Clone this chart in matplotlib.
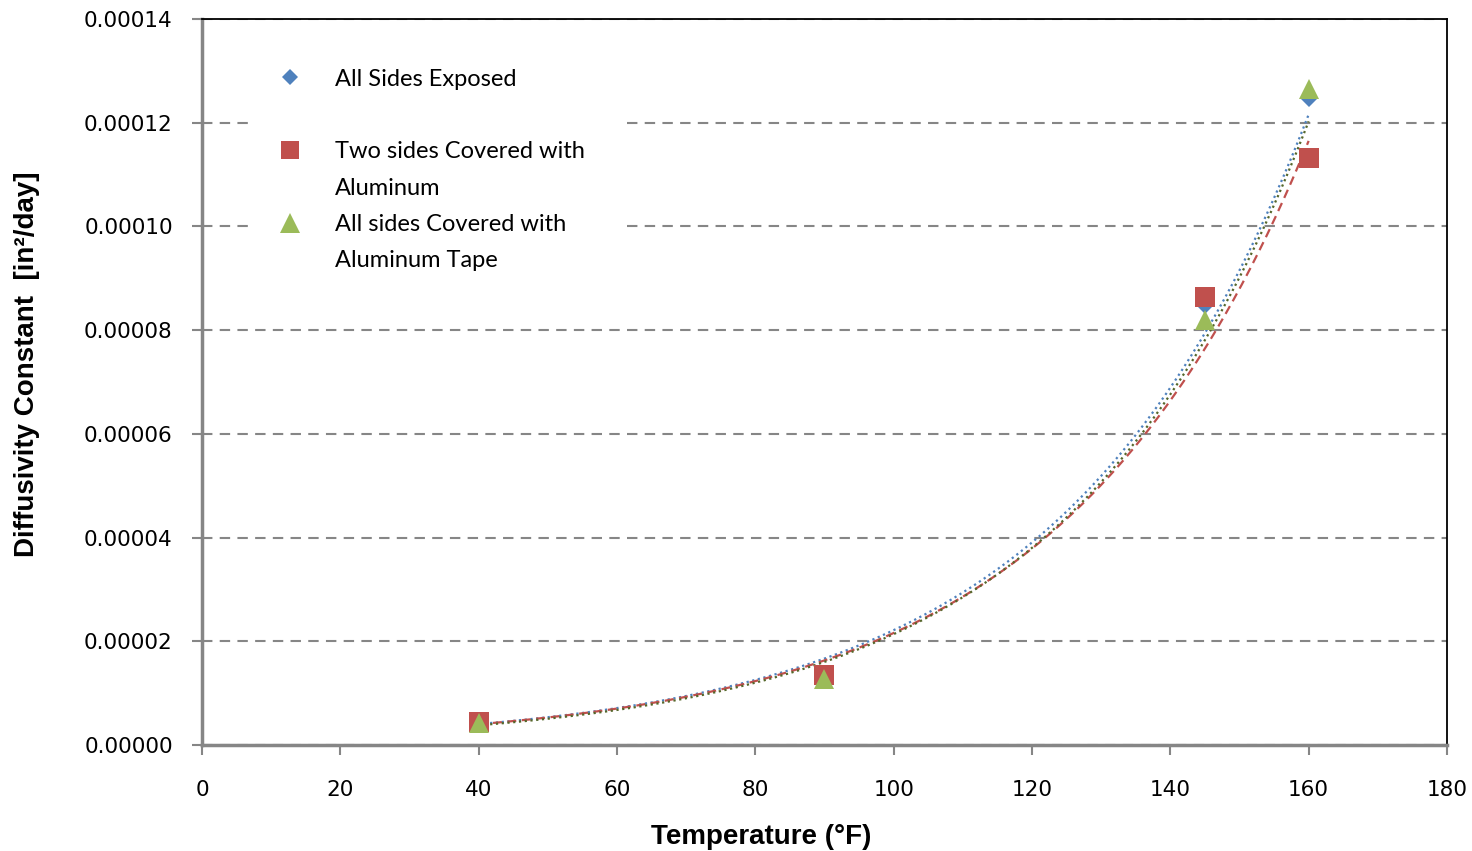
import numpy as np
import matplotlib.pyplot as plt
from matplotlib.lines import Line2D

# Diffusivity measurements at each test temperature
temp_f = [40, 90, 145, 160]
all_sides_exposed = [4.5e-6, 1.36e-5, 8.49e-5, 1.248e-4]
two_sides_covered = [4.4e-6, 1.35e-5, 8.64e-5, 1.132e-4]
all_sides_taped = [4.3e-6, 1.28e-5, 8.20e-5, 1.265e-4]

series_names = ['All Sides Exposed', 'Two sides Covered with\nAluminum',
                'All sides Covered with\nAluminum Tape']
marker_colors = ['#4F81BD', '#C0504D', '#9BBB59']
trend_colors = ['#4F81BD', '#C0504D', '#55672B']
trend_styles = [(0, (1, 1.6)), (0, (4, 2.5)), (0, (1, 1.6))]
markers = ['D', 's', '^']
marker_sizes = [9, 14, 15]

x_ticks = np.arange(0, 181, 20)
y_ticks = np.arange(0, 0.000141, 0.00002)

fig = plt.figure(figsize=(14.72, 8.51), dpi=100)
ax = fig.add_axes([0.1372, 0.1246, 0.8458, 0.8531])

grey = '#868686'

# exponential trendlines (least squares on log values)
xs = np.linspace(temp_f[0], temp_f[-1], 200)
for ys, c, ls in zip([all_sides_exposed, two_sides_covered, all_sides_taped],
                     trend_colors, trend_styles):
    b, a = np.polyfit(temp_f, np.log(ys), 1)
    ax.plot(xs, np.exp(a + b * xs), color=c, linestyle=ls, lw=1.6, zorder=2)

for ys, c, m, ms in zip([all_sides_exposed, two_sides_covered, all_sides_taped],
                        marker_colors, markers, marker_sizes):
    ax.plot(temp_f, ys, linestyle='none', marker=m, color=c, markersize=ms,
            markeredgewidth=0, zorder=3)

ax.set_xlim(0, 180)
ax.set_ylim(0, 0.00014)
ax.set_xticks(x_ticks)
ax.set_yticks(y_ticks)
ax.set_xticklabels([str(v) for v in x_ticks])
ax.set_yticklabels(['%.5f' % v for v in y_ticks])
ax.tick_params(axis='both', direction='out', length=7, width=1.5, color=grey,
               labelsize=15.5)
ax.tick_params(axis='y', pad=14)
ax.tick_params(axis='x', pad=18)

ax.yaxis.grid(True, color=grey, linestyle=(0, (5, 3.5)), linewidth=1.5)
ax.set_axisbelow(True)

for side in ['left', 'bottom']:
    ax.spines[side].set_color(grey)
    ax.spines[side].set_linewidth(2.5)
for side in ['top', 'right']:
    ax.spines[side].set_color('black')
    ax.spines[side].set_linewidth(1.3)

label_font = dict(family=['Liberation Sans', 'DejaVu Sans'],
                  weight='bold', size=20)
ax.set_xlabel('Temperature (°F)', **label_font)
ax.set_ylabel('Diffusivity Constant  [in²/day]', **label_font)
ax.xaxis.set_label_coords(0.449, -0.1095)
ax.yaxis.set_label_coords(-0.130, 0.525)

# legend rows; continuation lines get an empty handle
handles, labels = [], []
for name, c, m, ms in zip(series_names, marker_colors, markers, marker_sizes):
    lines = name.split('\n')
    handles.append(Line2D([], [], linestyle='none', marker=m, color=c,
                          markersize=ms * 0.95, markeredgewidth=0))
    labels.append(lines[0])
    if len(lines) > 1:
        for extra in lines[1:]:
            handles.append(Line2D([], [], linestyle='none'))
            labels.append(extra)
    else:
        handles.append(Line2D([], [], linestyle='none'))
        labels.append(' ')
labels[2] = labels[2] + '\u00a0' * 3

leg = ax.legend(handles, labels, loc='upper left', bbox_to_anchor=(0.029, 0.977),
                frameon=True, framealpha=1, edgecolor='none', facecolor='white',
                prop=dict(family=['Lato', 'DejaVu Sans'], size=17),
                labelspacing=0.65, handletextpad=1.1, handlelength=1.6,
                borderpad=0.9, fancybox=False)
leg.set_zorder(4)

fig.savefig('out.png', dpi=100)
